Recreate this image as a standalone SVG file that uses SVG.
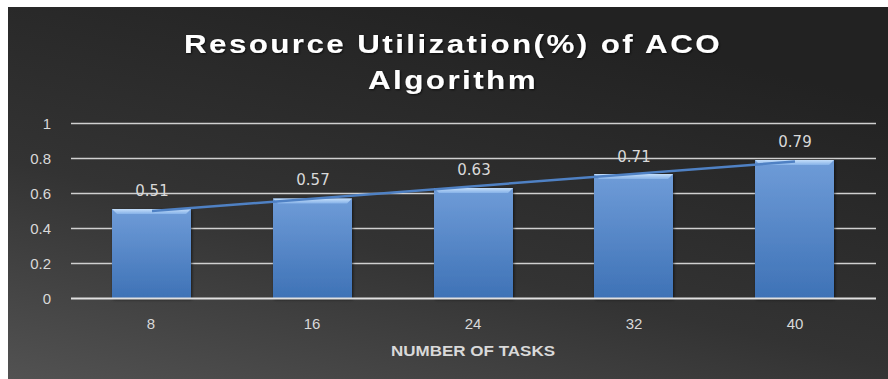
<svg xmlns="http://www.w3.org/2000/svg" width="888" height="379" viewBox="0 0 888 379">
  <defs>
    <linearGradient id="bg" x1="0" y1="1" x2="0.55" y2="0">
      <stop offset="0" stop-color="#525252"/>
      <stop offset="0.45" stop-color="#333333"/>
      <stop offset="1" stop-color="#222222"/>
    </linearGradient>
    <linearGradient id="barFill" x1="0" y1="0" x2="0" y2="1">
      <stop offset="0" stop-color="#6f9cd8"/>
      <stop offset="1" stop-color="#3e72b6"/>
    </linearGradient>
    <linearGradient id="bevel" x1="0" y1="0" x2="0" y2="1">
      <stop offset="0" stop-color="#c4defa"/>
      <stop offset="1" stop-color="#86b2e8"/>
    </linearGradient>
    <filter id="shadow" x="-20%" y="-20%" width="140%" height="140%">
      <feDropShadow dx="1" dy="1" stdDeviation="1.5" flood-color="#000" flood-opacity="0.6"/>
    </filter>
    <filter id="tshadow" x="-5%" y="-20%" width="110%" height="140%">
      <feDropShadow dx="1" dy="1" stdDeviation="1" flood-color="#000" flood-opacity="0.7"/>
    </filter>
  </defs>
  <style>
    .grid { stroke: #d0d0d0; stroke-width: 1.5; }
    .axis { stroke: #e0e0e0; stroke-width: 2; }
    .tick { font-family: "Liberation Sans Narrow", "Liberation Sans", sans-serif; font-size: 15px; fill: #d9d9d9; }
    .dl { font-family: "DejaVu Sans", "Liberation Sans", sans-serif; font-size: 15px; fill: #d9d9d9; text-anchor: middle; }
    .title { font-family: "Liberation Sans", sans-serif; font-weight: bold; font-size: 26px; letter-spacing: 2px; fill: #ffffff; text-anchor: middle; }
    .bar { fill: url(#barFill); filter: url(#shadow); }
    .bev { fill: url(#bevel); }
    .trend { stroke: #4f81c4; stroke-width: 2.5; fill: none; }
  </style>
  <rect x="0" y="0" width="888" height="379" fill="#ffffff"/>
  <rect x="8" y="7" width="880" height="372" fill="url(#bg)"/>

  <g id="title" filter="url(#tshadow)">
    <text class="title" x="453" y="53" textLength="538" lengthAdjust="spacingAndGlyphs">Resource Utilization(%) of ACO</text>
    <text class="title" x="453" y="89" textLength="170" lengthAdjust="spacingAndGlyphs">Algorithm</text>
  </g>

  <g id="gridlines">
    <line class="grid" x1="71" y1="123.5" x2="876" y2="123.5"/>
    <line class="grid" x1="71" y1="158.5" x2="876" y2="158.5"/>
    <line class="grid" x1="71" y1="193.5" x2="876" y2="193.5"/>
    <line class="grid" x1="71" y1="228.5" x2="876" y2="228.5"/>
    <line class="grid" x1="71" y1="263.5" x2="876" y2="263.5"/>
  </g>

  <g id="y-axis-labels" class="tick" text-anchor="end">
    <text x="51" y="129">1</text>
    <text x="51" y="164">0.8</text>
    <text x="51" y="199">0.6</text>
    <text x="51" y="234">0.4</text>
    <text x="51" y="269">0.2</text>
    <text x="51" y="304">0</text>
  </g>

  <g id="bar-8">
    <rect class="bar" x="112" y="209" width="79" height="89.5"/>
    <polygon class="bev" points="112,209 191,209 186,214 117,214"/>
    <text class="dl" x="152" y="196">0.51</text>
  </g>
  <g id="bar-16">
    <rect class="bar" x="273" y="198.5" width="79" height="100"/>
    <polygon class="bev" points="273,198.5 352,198.5 347,203.5 278,203.5"/>
    <text class="dl" x="313" y="185">0.57</text>
  </g>
  <g id="bar-24">
    <rect class="bar" x="434" y="188" width="79" height="110.5"/>
    <polygon class="bev" points="434,188 513,188 508,193 439,193"/>
    <text class="dl" x="474" y="175">0.63</text>
  </g>
  <g id="bar-32">
    <rect class="bar" x="594" y="174" width="79" height="124.5"/>
    <polygon class="bev" points="594,174 673,174 668,179 599,179"/>
    <text class="dl" x="634" y="162">0.71</text>
  </g>
  <g id="bar-40">
    <rect class="bar" x="755" y="160" width="79" height="138.5"/>
    <polygon class="bev" points="755,160 834,160 829,165 760,165"/>
    <text class="dl" x="795" y="147">0.79</text>
  </g>

  <g id="connectors">
    <line class="trend" x1="152" y1="211" x2="795" y2="161.5"/>
  </g>

  <line class="axis" x1="71" y1="298.5" x2="876" y2="298.5"/>

  <g id="x-axis-labels" class="tick" text-anchor="middle">
    <text x="151" y="329">8</text>
    <text x="312" y="329">16</text>
    <text x="473" y="329">24</text>
    <text x="634" y="329">32</text>
    <text x="795" y="329">40</text>
  </g>
  <text id="x-axis-title" x="473" y="356" text-anchor="middle" font-family="Liberation Sans Narrow, Liberation Sans, sans-serif" font-size="14" font-weight="bold" fill="#d9d9d9" textLength="164" lengthAdjust="spacingAndGlyphs">NUMBER OF TASKS</text>
</svg>
